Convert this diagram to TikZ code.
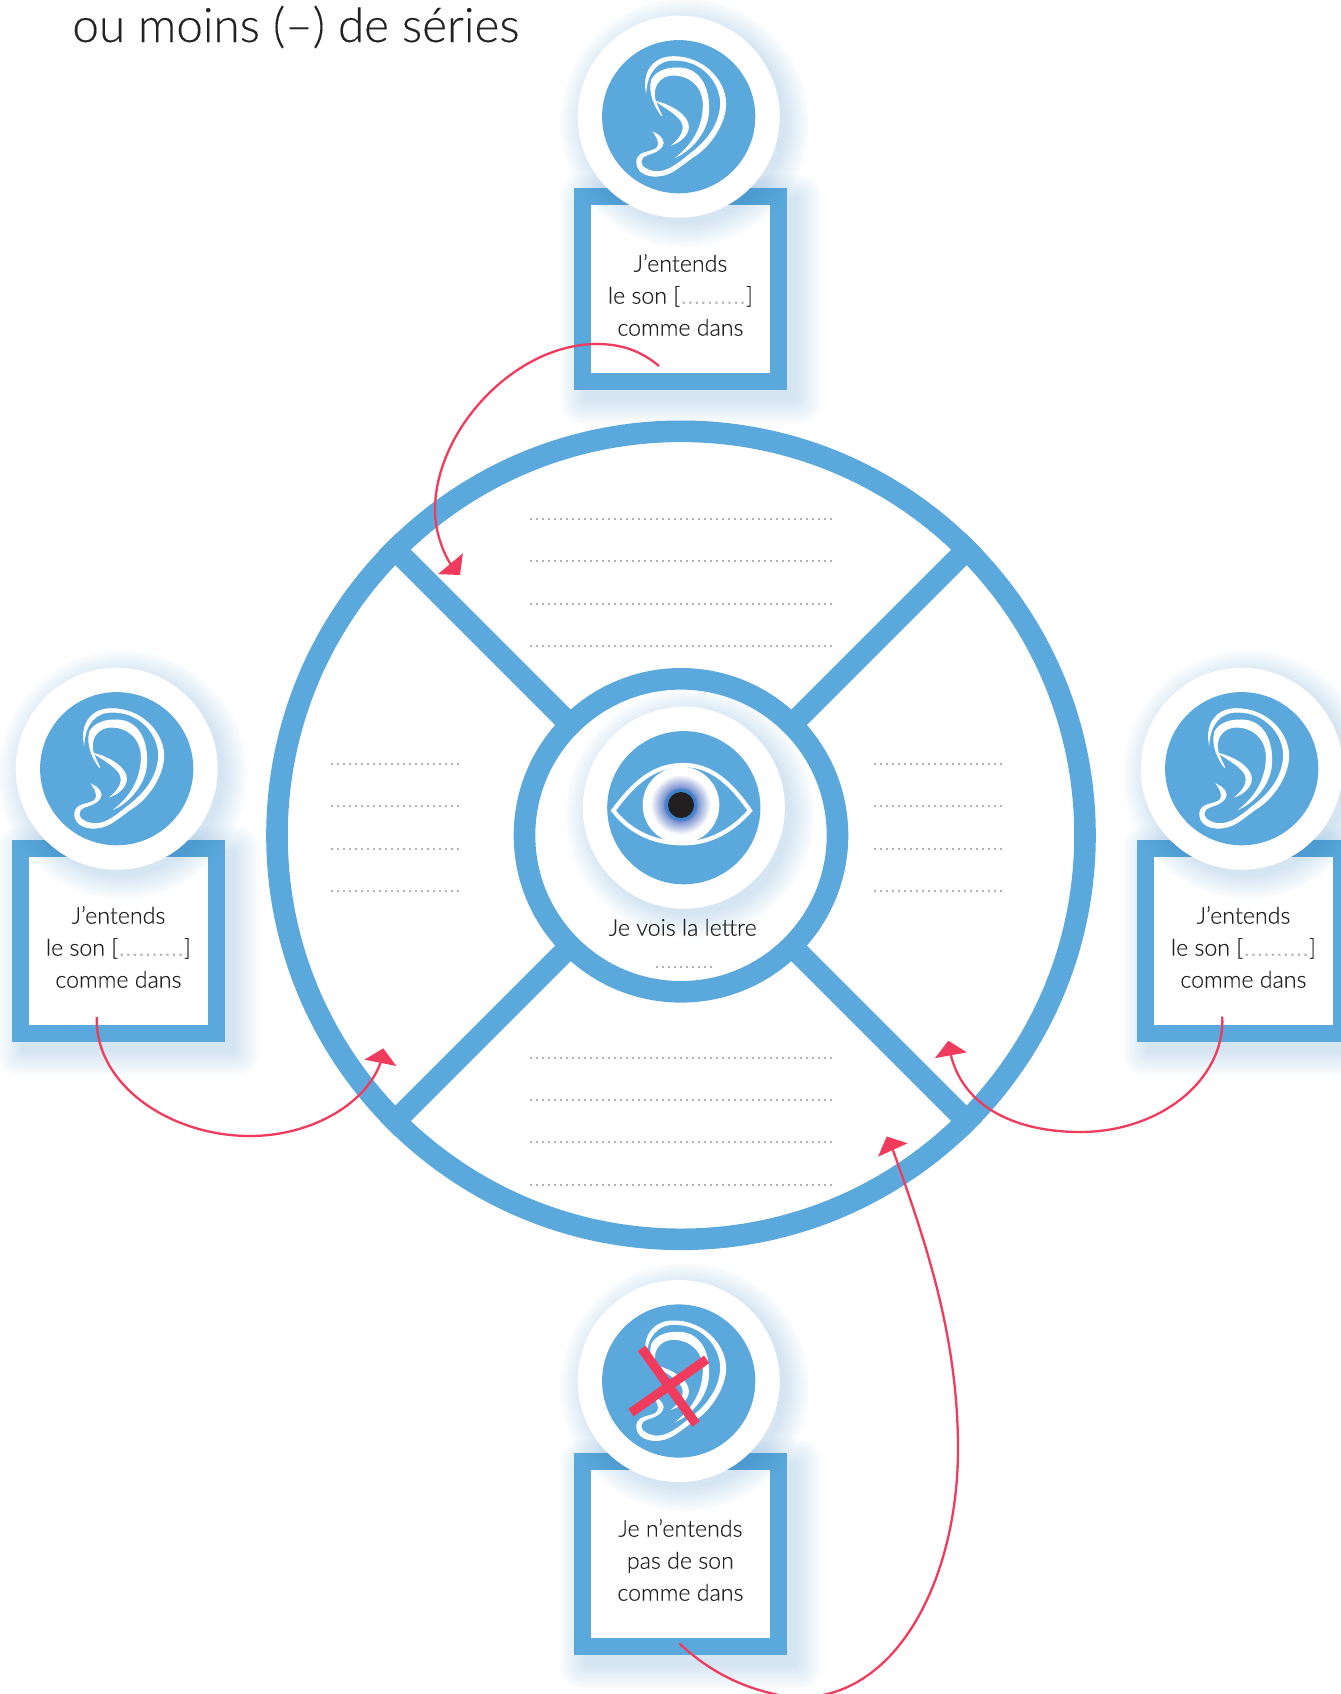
\documentclass[tikz,border=0pt]{standalone}
\usepackage{fontspec}
\setmainfont[FakeBold=0.25]{Lato Light}
\usetikzlibrary{arrows.meta}
\definecolor{bluec}{RGB}{91,168,220}
\definecolor{shadowc}{RGB}{55,140,210}
\definecolor{redc}{RGB}{240,59,92}
\definecolor{textc}{RGB}{35,35,35}
\definecolor{dotc}{RGB}{178,178,178}
\definecolor{pupilc}{RGB}{35,31,32}
\definecolor{irisa}{RGB}{60,130,205}
\definecolor{irisb}{RGB}{95,125,200}
\tikzset{
  framebox/.style={draw=bluec,fill=white,line width=8.5bp,minimum width=98bp,minimum height=92.5bp,inner sep=0pt},
  halo/.style={circle,fill=white,minimum size=101bp,inner sep=0pt},
  disc/.style={circle,fill=bluec,minimum size=76.6bp,inner sep=0pt},
  boxlabel/.style={align=center,text=textc,font=\fontsize{11.6bp}{16bp}\selectfont,inner sep=0pt},
  ring/.style={circle,draw=bluec,line width=10.8bp,inner sep=0pt},
  spoke/.style={draw=bluec,line width=11bp,shorten <=-1.5bp},
  fillers/.style={dotc,line width=0.9bp,dash pattern=on 0.9bp off 2.1bp},
  arr/.style={draw=redc,line width=1.15bp,-{Triangle[length=7.4bp,width=16bp]}},
  earshape/.style={fill=white,draw=white,line width=0.5bp},
  crossbar/.style={draw=redc,line width=4.6bp},
}
\newcommand{\softdisc}[3]{\foreach \k in {0,...,12}{\fill[shadowc,opacity=.014] (#1+6,#2+6) circle [radius=#3+\k*2];}}
\newcommand{\softbox}[4]{\foreach \k in {0,...,12}{\fill[shadowc,opacity=.014,rounded corners=\k*0.8bp+1bp] (#1+10-\k*2,#2+10-\k*2) rectangle (#3+10+\k*2,#4+10+\k*2);}}
\newcommand{\bracketdots}{[\hspace{0.4bp}{\color{dotc}.\hspace{0.55bp}.\hspace{0.55bp}.\hspace{0.55bp}.\hspace{0.55bp}.\hspace{0.55bp}.\hspace{0.55bp}.\hspace{0.55bp}.\hspace{0.55bp}.\hspace{0.55bp}.}\hspace{0.4bp}]}
\tikzset{ear/.pic={
  \begin{scope}[scale=1/3,shift={(-356,-350)}]
  \filldraw[earshape] (258,270) .. controls (250,215) and (280,170) .. (340,170)
    .. controls (430,170) and (495,240) .. (497,310)
    .. controls (497,370) and (450,440) .. (400,470)
    .. controls (350,505) and (330,530) .. (280,528)
    .. controls (240,525) and (225,500) .. (232,475)
    .. controls (240,455) and (270,458) .. (290,445)
    .. controls (300,435) and (295,415) .. (282,398)
    .. controls (300,405) and (318,425) .. (305,440)
    .. controls (290,460) and (260,462) .. (250,470)
    .. controls (232,490) and (250,510) .. (285,515)
    .. controls (320,518) and (350,495) .. (390,462)
    .. controls (440,425) and (480,375) .. (482,310)
    .. controls (482,250) and (430,180) .. (345,180)
    .. controls (290,178) and (262,220) .. (258,270) -- cycle;
  \filldraw[earshape] (305,347) .. controls (285,320) and (265,280) .. (275,240)
    .. controls (290,210) and (330,200) .. (370,205)
    .. controls (430,215) and (450,280) .. (445,340)
    .. controls (440,400) and (390,450) .. (355,467)
    .. controls (400,430) and (428,380) .. (430,320)
    .. controls (432,260) and (390,225) .. (340,225)
    .. controls (295,225) and (275,265) .. (285,300)
    .. controls (292,320) and (300,335) .. (305,347) -- cycle;
  \filldraw[earshape] (290,305) .. controls (330,315) and (385,345) .. (385,380)
    .. controls (385,405) and (360,425) .. (340,432)
    .. controls (360,415) and (378,390) .. (365,365)
    .. controls (350,340) and (310,320) .. (290,305) -- cycle;
  \end{scope}
}}
\begin{document}
\begin{tikzpicture}[x=0.5bp,y=-0.5bp]
\useasboundingbox (0,0) rectangle (1341,1694);
\clip (0,0) rectangle (1341,1694);
\fill[white] (0,0) rectangle (1341,1694);
\node[anchor=base west,inner sep=0pt,text=textc,font=\fontsize{23.8bp}{28bp}\selectfont] (title) at (72,42) {ou moins (–) de séries};

% wheel
\softdisc{684}{808}{101}
\node[ring,minimum size=404bp] (wheel) at (681,835.3) {};
\node[ring,minimum size=156.5bp] (hub) at (681,835.3) {};
\draw[spoke] (hub.45) -- (wheel.45);
\draw[spoke] (hub.135) -- (wheel.135);
\draw[spoke] (hub.225) -- (wheel.225);
\draw[spoke] (hub.315) -- (wheel.315);

% writing lines
\foreach \y in {519,561,604,646,1058,1100,1142,1185} \draw[fillers] (530,\y) -- (834,\y);
\foreach \y in {764,806,849,891} {\draw[fillers] (331,\y) -- (462,\y); \draw[fillers] (874,\y) -- (1005,\y);}
\draw[fillers] (656,967) -- (714,967);

% eye
\node[halo] (eyehalo) at (683.8,807.7) {};
\node[disc] (eyedisc) at (683.8,807.7) {};
\begin{scope}[shift={(560,680)},scale=1/3]
\draw[white,line width=2.1bp,line join=miter] (160,392) .. controls (220,310) and (280,255) .. (370,255) .. controls (450,255) and (510,305) .. (570,392) .. controls (510,460) and (440,490) .. (370,490) .. controls (280,490) and (210,455) .. (160,392) -- cycle;
\fill[white] (363,375) circle [radius=115];
\foreach \r in {92,89,...,44} {
  \pgfmathsetmacro\m{100*(92-\r)/48}
  \fill[irisb!\m!white] (363,375) circle [radius=\r];
}
\fill[irisa,opacity=.6] (363,375) circle [radius=50];
\fill[irisa] (363,375) circle [radius=45];
\fill[pupilc] (363,375) circle [radius=39];
\end{scope}
\node[boxlabel,anchor=base] (eyelabel) at (682.7,935.7) {Je vois la lettre};

% top ear
\softbox{574}{188}{787}{390}
\node[framebox] (boxT) at (680.4,289) {};
\softdisc{678.7}{116.7}{101}
\node[halo] (haloT) at (678.7,116.7) {};
\node[disc] (discT) at (678.7,116.7) {};
\pic at (discT.center) {ear};
\node[boxlabel] (textT) at (680.4,295) {J’entends\\le son \bracketdots\\comme dans};

% left ear
\softbox{12}{840}{225}{1042}
\node[framebox] (boxL) at (118.4,941) {};
\softdisc{116.7}{768.7}{101}
\node[halo] (haloL) at (116.7,768.7) {};
\node[disc] (discL) at (116.7,768.7) {};
\pic at (discL.center) {ear};
\node[boxlabel] (textL) at (118.4,947) {J’entends\\le son \bracketdots\\comme dans};

% right ear
\softbox{1137}{840}{1350}{1042}
\node[framebox] (boxR) at (1243.4,941) {};
\softdisc{1241.7}{768.7}{101}
\node[halo] (haloR) at (1241.7,768.7) {};
\node[disc] (discR) at (1241.7,768.7) {};
\pic at (discR.center) {ear};
\node[boxlabel] (textR) at (1243.4,947) {J’entends\\le son \bracketdots\\comme dans};

% bottom ear
\softbox{574}{1453}{787}{1655}
\node[framebox] (boxB) at (680.4,1554) {};
\softdisc{678.7}{1381}{101}
\node[halo] (haloB) at (678.7,1381) {};
\node[disc] (discB) at (678.7,1381) {};
\pic at (discB.center) {ear};
\begin{scope}[shift={(560,1280)},scale=1/3]
\coordinate (xa) at (245,205); \coordinate (xb) at (408,432);
\coordinate (xc) at (213,398); \coordinate (xd) at (440,238);
\draw[crossbar] (xa) -- (xb);
\draw[crossbar] (xc) -- (xd);
\end{scope}
\node[boxlabel] (textB) at (680.4,1560) {Je n’entends\\pas de son\\comme dans};

% connectors
\coordinate (sT) at (659,366); \coordinate (bT) at (449.7,562.7); \coordinate (eT) at (460,575);
\draw[arr] (sT) .. controls (640,350) and (620,344) .. (597,344)
  .. controls (515,344) and (435,430) .. (435,510)
  .. controls (435,530) and (442,550) .. (bT) -- (eT);
\coordinate (sL) at (96.7,1017); \coordinate (bL) at (380.3,1063.3); \coordinate (eL) at (383.3,1048.3);
\draw[arr] (sL) .. controls (95,1085) and (170,1136) .. (250,1136)
  .. controls (310,1136) and (365,1105) .. (bL) -- (eL);
\coordinate (sR) at (1222.3,1016.7); \coordinate (bR) at (951,1055.7); \coordinate (eR) at (948.3,1040.7);
\draw[arr] (sR) .. controls (1225,1080) and (1160,1132) .. (1080,1132)
  .. controls (1020,1132) and (965,1110) .. (bR) -- (eR);
\coordinate (sB) at (679.3,1643.4); \coordinate (bB) at (893.3,1151); \coordinate (eB) at (886.7,1136.5);
\draw[arr] (sB) .. controls (710,1672) and (745,1690) .. (790,1697)
  .. controls (895,1705) and (958,1580) .. (958,1449)
  .. controls (958,1335) and (925,1240) .. (bB) -- (eB);
\end{tikzpicture}
\end{document}
